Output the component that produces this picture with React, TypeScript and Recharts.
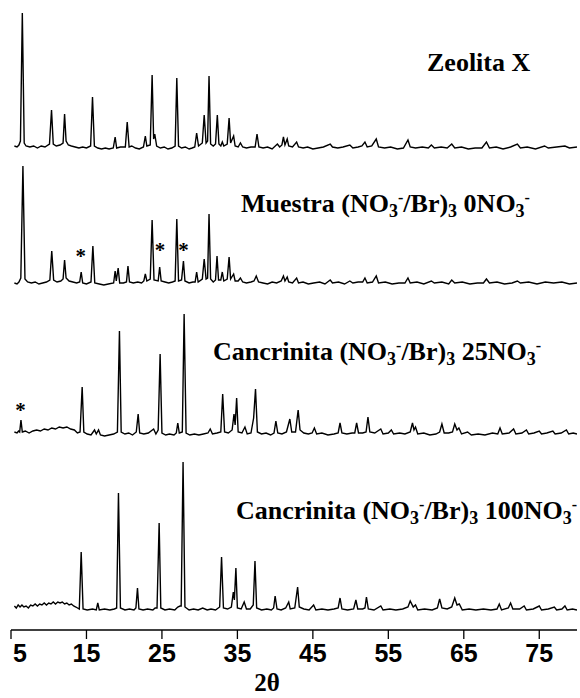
import { ComposedChart, Line, XAxis, YAxis, ReferenceDot } from 'recharts'

// 2θ / intensity (a.u.), baseline = 0
const zeoliteX: [number, number][] = [
  [5.45, 3], [5.8, 2], [6.05, 4], [6.25, 8], [6.5, 136], [6.75, 6], [7.0, 3], [7.5, 2], [8.0, 3], [8.5, 1], [9.0, 3], [9.5, 2],
  [10.1, 5], [10.37, 39], [10.6, 5], [11.0, 3], [11.5, 4], [11.9, 6], [12.1, 35], [12.3, 8], [12.6, 4], [13.0, 3], [13.5, 2],
  [14.0, 1], [14.5, 2], [15.0, 1], [15.55, 3], [15.8, 52], [16.05, 3], [16.5, 1], [17.0, 0], [17.5, 1], [18.0, 0], [18.55, 1],
  [18.8, 12], [19.0, 1], [19.5, 2], [20.15, 2], [20.4, 27], [20.65, 2], [21.0, 3], [21.5, 1], [22.0, 0], [22.55, 2], [22.8, 13],
  [23.0, 3], [23.45, 4], [23.7, 74], [23.9, 10], [24.05, 15], [24.3, 3], [24.8, 1], [25.3, 2], [25.8, 0], [26.3, 1], [26.75, 3],
  [26.97, 71], [27.2, 3], [27.6, 1], [28.1, 2], [28.6, 0], [29.0, 1], [29.35, 2], [29.6, 16], [29.85, 3], [30.35, 6], [30.6, 34],
  [30.85, 6], [31.05, 8], [31.24, 73], [31.45, 5], [31.8, 3], [32.1, 5], [32.34, 34], [32.55, 5], [32.8, 3], [33.0, 7], [33.2, 3],
  [33.65, 5], [33.9, 31], [34.1, 6], [34.5, 13], [34.7, 3], [35.1, 2], [35.4, 6], [35.7, 2], [36.2, 1], [36.8, 2], [37.35, 2],
  [37.6, 15], [37.85, 2], [38.4, 1], [39.0, 2], [39.6, 0], [40.3, 5], [40.6, 2], [40.9, 4], [41.1, 12], [41.3, 4], [41.6, 10],
  [41.8, 3], [42.3, 2], [42.85, 7], [43.1, 2], [43.7, 1], [44.3, 2], [45.0, 0], [45.7, 1], [46.4, 2], [47.3, 5], [47.6, 2],
  [48.3, 1], [49.0, 2], [49.9, 4], [50.3, 1], [51.0, 2], [51.5, 3], [51.9, 7], [52.2, 2], [52.8, 3], [53.4, 10], [53.7, 2],
  [54.5, 1], [55.3, 2], [56.2, 0], [57.0, 1], [57.6, 9], [57.9, 2], [58.6, 1], [59.5, 2], [60.3, 1], [60.7, 4], [61.1, 1],
  [62.0, 2], [62.8, 1], [63.4, 5], [63.8, 1], [64.7, 2], [65.6, 0], [66.5, 1], [67.4, 1], [68.0, 7], [68.4, 1], [69.3, 2],
  [70.2, 0], [71.2, 2], [72.1, 5], [72.5, 1], [73.4, 2], [74.5, 0], [75.7, 3], [76.2, 1], [77.3, 2], [78.4, 3], [79.0, 1], [80, 2],
]

const muestra0: [number, number][] = [
  [5.45, 1], [5.8, 0], [6.05, 2], [6.3, 6], [6.58, 118], [6.85, 5], [7.2, 2], [7.7, 1], [8.2, 2], [8.7, 0], [9.2, 1], [9.7, 2],
  [10.15, 4], [10.4, 33], [10.65, 4], [11.1, 2], [11.6, 3], [11.9, 5], [12.1, 24], [12.3, 6], [12.7, 3], [13.2, 2], [13.7, 1],
  [14.1, 2], [14.3, 12], [14.5, 1], [15.0, 0], [15.6, 2], [15.85, 38], [16.1, 1], [16.7, 0], [17.3, -1], [17.9, 0], [18.6, 1],
  [18.8, 13], [18.95, 3], [19.2, 16], [19.4, 1], [19.9, 1], [20.3, 2], [20.5, 18], [20.7, 2], [21.2, 1], [21.8, 2], [22.3, 1],
  [22.6, 3], [22.8, 10], [23.0, 3], [23.45, 5], [23.7, 64], [23.95, 4], [24.5, 3], [24.7, 17], [24.9, 3], [25.4, 2], [25.9, 1],
  [26.4, 2], [26.75, 3], [26.97, 65], [27.2, 3], [27.6, 4], [27.85, 23], [28.05, 3], [28.6, 1], [29.1, 2], [29.4, 2], [29.6, 12],
  [29.8, 2], [30.35, 5], [30.6, 25], [30.85, 5], [31.05, 6], [31.24, 70], [31.45, 5], [31.8, 2], [32.1, 4], [32.3, 28], [32.5, 4],
  [32.8, 4], [33.0, 12], [33.2, 3], [33.65, 5], [33.9, 27], [34.1, 5], [34.5, 10], [34.7, 3], [35.1, 3], [35.4, 6], [35.7, 2],
  [36.2, 1], [36.8, 2], [37.2, 3], [37.5, 8], [37.8, 2], [38.4, 1], [39.0, 0], [39.6, 2], [40.2, 1], [40.8, 3], [41.1, 8],
  [41.3, 3], [41.6, 7], [41.8, 2], [42.3, 1], [42.85, 6], [43.1, 1], [43.7, 2], [44.4, 0], [45.1, 1], [45.9, 2], [46.6, 0],
  [47.3, 4], [47.6, 1], [48.4, 2], [49.2, 0], [49.9, 3], [50.3, 1], [51.0, 2], [51.6, 2], [51.9, 6], [52.2, 1], [52.9, 2],
  [53.4, 8], [53.7, 1], [54.6, 2], [55.5, 0], [56.4, 1], [57.2, 1], [57.6, 6], [57.9, 1], [58.8, 2], [59.7, 0], [60.7, 3],
  [61.1, 1], [62.1, 2], [63.0, 0], [63.4, 4], [63.8, 1], [64.8, 2], [65.8, 0], [66.8, 1], [67.6, 1], [68.0, 5], [68.4, 1],
  [69.4, 2], [70.4, 0], [71.4, 1], [72.1, 3], [72.5, 1], [73.6, 2], [74.7, 0], [75.8, 2], [76.9, 1], [78.0, 2], [79.0, 0], [80, 1],
]

const cancrinita25: [number, number][] = [
  [5.45, 3], [5.8, 2], [6.0, 4], [6.15, 3], [6.32, 15], [6.5, 3], [6.9, 4], [7.4, 2], [7.9, 4], [8.4, 5], [8.9, 4], [9.4, 6],
  [9.9, 5], [10.4, 7], [10.9, 6], [11.4, 8], [11.9, 7], [12.4, 8], [12.9, 6], [13.4, 5], [13.8, 2], [14.15, 3], [14.43, 48],
  [14.65, 3], [15.1, 1], [15.6, 0], [16.07, 5], [16.3, 1], [16.6, 5], [16.85, 0], [17.4, -1], [18.0, 0], [18.6, 1], [19.1, 3],
  [19.37, 104], [19.6, 3], [20.1, 1], [20.6, 2], [21.1, 0], [21.6, 3], [21.85, 21], [22.05, 2], [22.6, 1], [23.2, 2], [23.9, 6],
  [24.2, 1], [24.5, 5], [24.76, 81], [25.0, 2], [25.5, 0], [26.0, 1], [26.6, 0], [26.9, 2], [27.1, 12], [27.3, 2], [27.7, 3],
  [27.94, 121], [28.2, 2], [28.7, 0], [29.3, 1], [29.9, 0], [30.5, 1], [31.1, 2], [31.4, 6], [31.7, 1], [32.3, 2], [32.8, 3],
  [33.05, 41], [33.3, 3], [33.8, 2], [34.3, 5], [34.55, 21], [34.7, 10], [34.9, 37], [35.1, 3], [35.6, 2], [36.0, 8], [36.3, 1],
  [36.8, 2], [37.15, 17], [37.4, 46], [37.65, 3], [38.2, 1], [38.8, 2], [39.4, 0], [39.85, 2], [40.1, 14], [40.35, 2], [40.9, 1],
  [41.5, 3], [41.95, 16], [42.2, 3], [42.7, 3], [43.05, 25], [43.3, 5], [43.8, 2], [44.4, 1], [44.9, 2], [45.2, 7], [45.5, 1],
  [46.2, 2], [47.0, 0], [47.8, 1], [48.35, 2], [48.6, 12], [48.85, 2], [49.5, 1], [50.2, 2], [50.55, 2], [50.8, 12], [51.05, 2],
  [51.6, 2], [52.05, 3], [52.3, 18], [52.55, 3], [53.2, 2], [54.0, 6], [54.3, 1], [55.0, 2], [55.4, 5], [55.7, 1], [56.5, 2],
  [57.2, 1], [57.9, 3], [58.2, 12], [58.4, 5], [58.6, 8], [58.9, 1], [59.7, 2], [60.5, 0], [61.3, 1], [61.8, 3], [62.1, 11],
  [62.4, 2], [63.0, 2], [63.5, 3], [63.8, 11], [64.1, 5], [64.35, 7], [64.7, 1], [65.5, 3], [66.0, 0], [66.9, 1], [67.8, 0],
  [68.8, 2], [69.5, 1], [69.8, 7], [70.1, 1], [71.0, 2], [71.6, 6], [71.9, 1], [72.7, 2], [73.3, 5], [73.6, 1], [74.3, 2],
  [75.0, 4], [75.3, 1], [76.0, 2], [76.8, 4], [77.1, 1], [77.9, 2], [78.6, 5], [78.9, 1], [79.5, 2], [80, 1],
]

const cancrinita100: [number, number][] = [
  [5.45, 4], [5.7, 2], [5.95, 5], [6.2, 3], [6.45, 5], [6.7, 3], [7.0, 4], [7.3, 2], [7.6, 5], [7.9, 4], [8.2, 6], [8.5, 4],
  [8.8, 6], [9.1, 5], [9.4, 7], [9.7, 5], [10.0, 7], [10.3, 6], [10.6, 8], [10.9, 6], [11.2, 8], [11.5, 7], [11.8, 8], [12.1, 6],
  [12.4, 7], [12.7, 5], [13.0, 6], [13.3, 4], [13.6, 3], [14.05, 1], [14.3, 58], [14.55, 1], [15.1, 0], [15.8, 1], [16.3, 0],
  [16.5, 7], [16.7, 0], [17.4, 1], [18.1, 0], [18.7, 1], [19.0, 2], [19.24, 117], [19.5, 2], [20.1, 0], [20.7, 1], [21.3, 0],
  [21.55, 2], [21.76, 22], [21.95, 1], [22.5, 0], [23.1, 1], [23.8, 0], [24.1, 2], [24.35, 2], [24.63, 87], [24.85, 2],
  [25.4, 0], [26.0, 1], [26.7, 0], [27.1, 3], [27.4, 4], [27.55, 4], [27.8, 148], [28.05, 3], [28.6, 0], [29.2, 1], [29.8, 0],
  [30.4, 2], [31.0, 0], [31.5, 1], [32.1, 0], [32.65, 3], [32.9, 53], [33.15, 2], [33.7, 1], [34.2, 3], [34.46, 18], [34.6, 10],
  [34.8, 42], [35.0, 2], [35.5, 1], [35.9, 8], [36.2, 1], [36.7, 1], [37.1, 5], [37.33, 49], [37.55, 2], [38.2, 0], [38.9, 1],
  [39.5, 0], [39.8, 2], [40.0, 14], [40.25, 1], [40.8, 0], [41.4, 2], [41.8, 8], [42.0, 1], [42.6, 2], [42.98, 23], [43.2, 3],
  [43.8, 1], [44.5, 0], [45.1, 5], [45.4, 0], [46.2, 1], [47.0, 0], [47.8, 1], [48.35, 2], [48.6, 12], [48.85, 1], [49.6, 0],
  [50.4, 1], [50.7, 10], [50.95, 1], [51.6, 1], [51.9, 2], [52.1, 13], [52.35, 1], [53.1, 0], [54.0, 4], [54.3, 0], [55.2, 1],
  [56.0, 0], [56.9, 1], [57.6, 3], [57.9, 9], [58.3, 3], [58.6, 5], [58.9, 0], [59.8, 1], [60.8, 0], [61.5, 2], [61.8, 11],
  [62.1, 2], [62.8, 1], [63.4, 3], [63.8, 12], [64.1, 5], [64.4, 6], [64.8, 0], [65.7, 1], [66.6, 0], [67.6, 1], [68.6, 0],
  [69.4, 1], [69.7, 6], [70.0, 0], [70.9, 2], [71.2, 7], [71.5, 1], [72.4, 1], [73.0, 4], [73.3, 0], [74.2, 1], [75.0, 4],
  [75.3, 0], [76.2, 1], [77.0, 3], [77.3, 0], [78.0, 1], [78.4, 4], [78.7, 0], [79.4, 1], [80, 0],
]

// impurity peaks marked with *
const muestraStars: [number, number][] = [[14.25, 31], [24.75, 37], [27.85, 37]]
const canc25Stars: [number, number][] = [[6.25, 28]]

const xTicks = [5, 15, 25, 35, 45, 55, 65, 75]

type Part = [string, 'n' | 'sub' | 'sup']
const titleZeolita: Part[] = [['Zeolita X', 'n']]
const titleMuestra: Part[] = [['Muestra (NO', 'n'], ['3', 'sub'], ['-', 'sup'], ['/Br)', 'n'], ['3', 'sub'], [' 0NO', 'n'], ['3', 'sub'], ['-', 'sup']]
const titleCanc25: Part[] = [['Cancrinita (NO', 'n'], ['3', 'sub'], ['-', 'sup'], ['/Br)', 'n'], ['3', 'sub'], [' 25NO', 'n'], ['3', 'sub'], ['-', 'sup']]
const titleCanc100: Part[] = [['Cancrinita (NO', 'n'], ['3', 'sub'], ['-', 'sup'], ['/Br)', 'n'], ['3', 'sub'], [' 100NO', 'n'], ['3', 'sub'], ['-', 'sup']]

const SERIF = '"Liberation Serif", "Times New Roman", serif'
const SANS = '"Liberation Sans", Arial, sans-serif'

// vertical stacking offsets for each pattern
const OFFSETS = { zeo: 481, mue: 346, c25: 195, c100: 20 }

const toRows = (pts: [number, number][], off: number) => pts.map(([x, y]) => ({ x, y: y + off }))

function Formula({ x, y, parts }: { x: number; y: number; parts: Part[] }) {
  let cur = 0
  return (
    <text x={x} y={y} fontFamily={SERIF} fontWeight="bold" fontSize={26} fill="#000">
      {parts.map(([t, k], i) => {
        const target = k === 'sub' ? 5 : k === 'sup' ? -9 : 0
        const dy = target - cur
        cur = target
        return (
          <tspan key={i} dy={dy} fontSize={k === 'n' ? 26 : k === 'sub' ? 18 : 16}>
            {t}
          </tspan>
        )
      })}
    </text>
  )
}

const AxisTick = ({ x, y, payload, index }: any) => (
  <text
    x={index === 0 ? x + 2 : x}
    y={y + 21}
    textAnchor={index === 0 ? 'start' : 'middle'}
    fontFamily={SANS}
    fontWeight="bold"
    fontSize={25}
    fill="#000"
  >
    {payload.value}
  </text>
)

const Star = ({ cx, cy }: any) => (
  <text x={cx} y={cy + 10} textAnchor="middle" fontFamily={SERIF} fontWeight="bold" fontSize={21} fill="#000">
    *
  </text>
)

export default function App() {
  const series = [
    { key: 'zeo', data: toRows(zeoliteX, OFFSETS.zeo) },
    { key: 'mue', data: toRows(muestra0, OFFSETS.mue) },
    { key: 'c25', data: toRows(cancrinita25, OFFSETS.c25) },
    { key: 'c100', data: toRows(cancrinita100, OFFSETS.c100) },
  ]
  const stars = [
    ...muestraStars.map(([x, y]) => ({ x, y: y + OFFSETS.mue })),
    ...canc25Stars.map(([x, y]) => ({ x, y: y + OFFSETS.c25 })),
  ]

  return (
    <div style={{ position: 'absolute', left: 0, top: 0, width: 580, height: 698, background: '#fff' }}>
      <ComposedChart width={580} height={698} margin={{ top: 0, right: 3, left: 11, bottom: 28 }}>
        <XAxis
          type="number"
          dataKey="x"
          domain={[5, 80]}
          ticks={xTicks}
          interval={0}
          allowDataOverflow
          height={40}
          tickSize={9}
          tickLine={{ stroke: '#000', strokeWidth: 1.3 }}
          axisLine={{ stroke: '#000', strokeWidth: 1.5 }}
          tick={<AxisTick />}
        />
        <YAxis type="number" domain={[0, 630]} hide allowDataOverflow />
        {series.map((s) => (
          <Line
            key={s.key}
            data={s.data}
            dataKey="y"
            type="linear"
            stroke="#000"
            strokeWidth={1.4}
            dot={false}
            activeDot={false}
            isAnimationActive={false}
          />
        ))}
        {stars.map((p, i) => (
          <ReferenceDot key={i} x={p.x} y={p.y} r={0} ifOverflow="visible" shape={<Star />} />
        ))}
      </ComposedChart>
      <svg width={580} height={698} style={{ position: 'absolute', left: 0, top: 0, pointerEvents: 'none' }}>
        <Formula x={427} y={71} parts={titleZeolita} />
        <Formula x={241} y={212} parts={titleMuestra} />
        <Formula x={213} y={360} parts={titleCanc25} />
        <Formula x={236} y={519} parts={titleCanc100} />
        <text x={267} y={691} textAnchor="middle" fontFamily={SERIF} fontWeight="bold" fontSize={25} fill="#000">
          2θ
        </text>
      </svg>
    </div>
  )
}
